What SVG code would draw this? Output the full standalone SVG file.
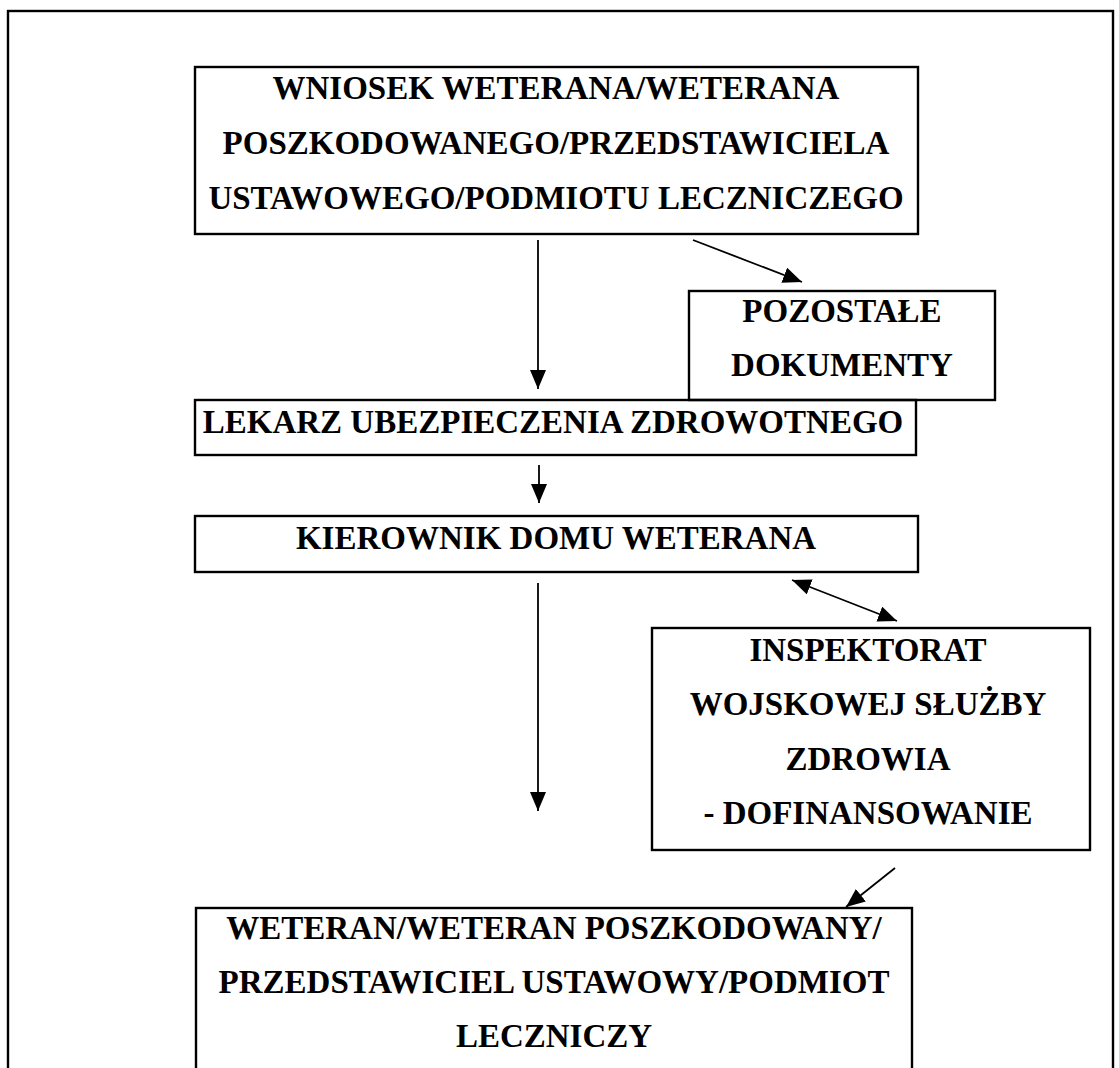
<svg xmlns="http://www.w3.org/2000/svg" width="1119" height="1068" viewBox="0 0 1119 1068">
<style>
.box{fill:none;stroke:#000;stroke-width:2.4}
.t{font-family:"Liberation Serif","Times New Roman",serif;font-weight:bold;font-size:33px;fill:#000;text-anchor:middle}
.c{fill:none;stroke:#000;stroke-width:1.8}
</style>
<defs>
<marker id="ah" markerUnits="userSpaceOnUse" markerWidth="22" markerHeight="18" refX="19" refY="8" orient="auto-start-reverse">
<path d="M0,0 L19,8 L0,16 z" fill="#000"/>
</marker>
</defs>
<rect width="1119" height="1068" fill="#fff"/>
<rect id="frame" class="box" x="8" y="11" width="1105" height="1100"/>
<g id="n1">
<rect class="box" x="195" y="67" width="723" height="167"/>
<text class="t" x="556" y="99">WNIOSEK WETERANA/WETERANA</text>
<text class="t" x="556" y="154">POSZKODOWANEGO/PRZEDSTAWICIELA</text>
<text class="t" x="556" y="209">USTAWOWEGO/PODMIOTU LECZNICZEGO</text>
</g>
<g id="n2">
<rect class="box" x="689" y="291" width="306" height="109"/>
<text class="t" x="842" y="322">POZOSTAŁE</text>
<text class="t" x="842" y="376">DOKUMENTY</text>
</g>
<g id="n3">
<rect class="box" x="195" y="400" width="721" height="55"/>
<text class="t" x="553" y="433">LEKARZ UBEZPIECZENIA ZDROWOTNEGO</text>
</g>
<g id="n4">
<rect class="box" x="195" y="516" width="723" height="56"/>
<text class="t" x="556" y="549">KIEROWNIK DOMU WETERANA</text>
</g>
<g id="n5">
<rect class="box" x="652" y="628" width="438" height="222"/>
<text class="t" x="868" y="661">INSPEKTORAT</text>
<text class="t" x="868" y="715">WOJSKOWEJ SŁUŻBY</text>
<text class="t" x="868" y="770">ZDROWIA</text>
<text class="t" x="868" y="824">- DOFINANSOWANIE</text>
</g>
<g id="n6">
<rect class="box" x="196" y="908" width="716" height="200"/>
<text class="t" x="554" y="939">WETERAN/WETERAN POSZKODOWANY/</text>
<text class="t" x="554" y="993">PRZEDSTAWICIEL USTAWOWY/PODMIOT</text>
<text class="t" x="554" y="1047">LECZNICZY</text>
</g>
<g id="connectors">
<line class="c" x1="538" y1="240" x2="538" y2="389" marker-end="url(#ah)"/>
<line class="c" x1="693" y1="240" x2="802" y2="282" marker-end="url(#ah)"/>
<line class="c" x1="539" y1="465" x2="539" y2="503" marker-end="url(#ah)"/>
<line class="c" x1="792" y1="580" x2="897" y2="621" marker-start="url(#ah)" marker-end="url(#ah)"/>
<line class="c" x1="538" y1="583" x2="538" y2="811" marker-end="url(#ah)"/>
<line class="c" x1="895" y1="868" x2="846" y2="907" marker-end="url(#ah)"/>
</g>
</svg>
